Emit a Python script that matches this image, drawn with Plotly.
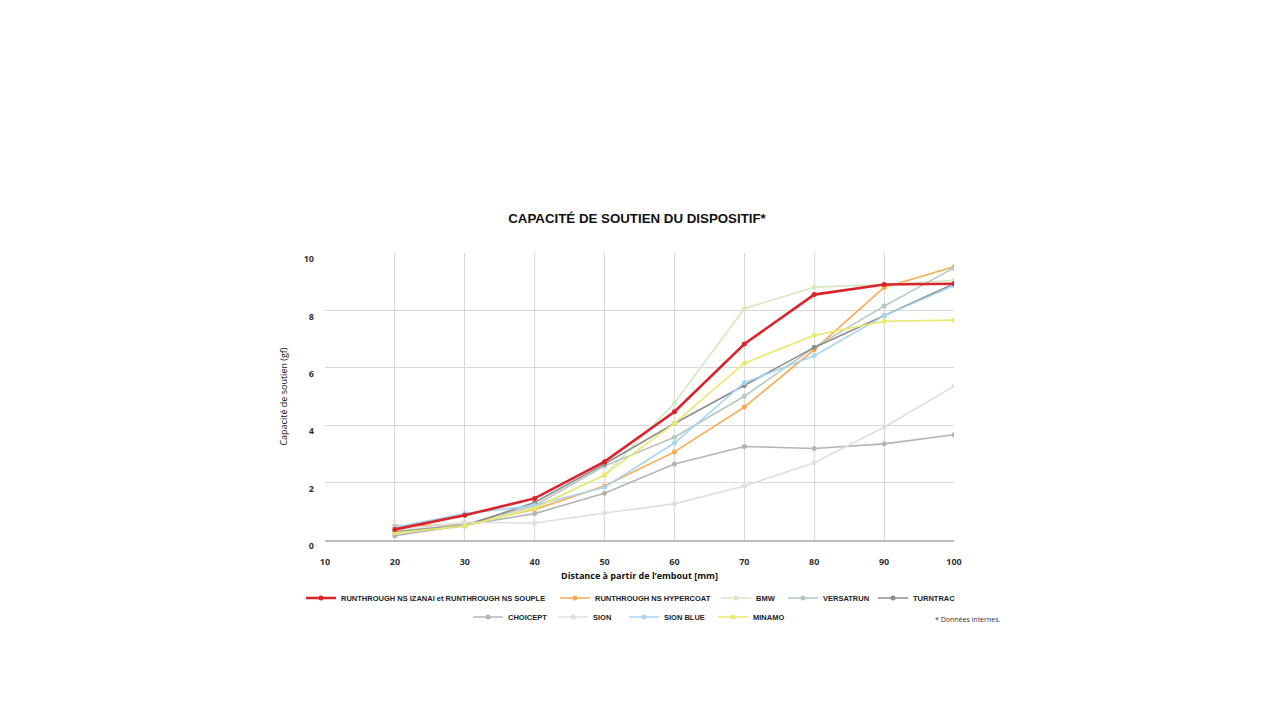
import plotly.graph_objects as go

# distance from tip [mm]
distance = [20, 30, 40, 50, 60, 70, 80, 90, 100]

# support capacity (gf) per product
izanai = [0.37, 0.86, 1.45, 2.73, 4.47, 6.83, 8.55, 8.90, 8.93]
hypercoat = [0.48, 0.55, 1.06, 1.88, 3.07, 4.63, 6.63, 8.80, 9.52]
bmw = [0.22, 0.47, 1.14, 2.25, 4.77, 8.06, 8.81, 8.90, 9.05]
versatrun = [0.30, 0.55, 1.20, 2.58, 3.58, 5.01, 6.71, 8.15, 9.48]
turntrac = [0.28, 0.50, 1.31, 2.65, 4.06, 5.38, 6.71, 7.81, 8.93]
choicept = [0.15, 0.52, 0.92, 1.63, 2.65, 3.26, 3.19, 3.35, 3.67]
sion = [0.35, 0.62, 0.59, 0.94, 1.26, 1.88, 2.69, 3.93, 5.36]
sion_blue = [0.44, 0.92, 1.20, 1.84, 3.38, 5.48, 6.42, 7.81, 8.86]
minamo = [0.25, 0.49, 1.10, 2.27, 4.06, 6.16, 7.13, 7.62, 7.66]

series = [
    ("RUNTHROUGH NS IZANAI et RUNTHROUGH NS SOUPLE", izanai, "#d9242b"),
    ("RUNTHROUGH NS HYPERCOAT", hypercoat, "#f9aa4f"),
    ("BMW", bmw, "#d5e8c2"),
    ("VERSATRUN", versatrun, "#b6c7bf"),
    ("TURNTRAC", turntrac, "#8e8e8e"),
    ("CHOICEPT", choicept, "#b4b4b4"),
    ("SION", sion, "#dfdfdf"),
    ("SION BLUE", sion_blue, "#a8d4f1"),
    ("MINAMO", minamo, "#e8e96f"),
]

# page has an 8px body margin, so the figure is a bit smaller than the window
W, H = 1264, 704
L, T = 317, 245
PW, PH = 629, 287

# where each legend entry's text starts in the picture (px), and its row
legend_text_x = [341, 595, 756, 823, 913, 508, 593, 664, 753]
legend_row_y = [598, 598, 598, 598, 598, 617, 617, 617, 617]

fig = go.Figure()

# draw red last so it sits on top
order = list(range(1, len(series))) + [0]
for i in order:
    name, values, color = series[i]
    fig.add_trace(
        go.Scatter(
            x=distance,
            y=values,
            name=name,
            mode="lines+markers",
            line=dict(color=color, width=2.6 if i == 0 else 1.6),
            marker=dict(color=color, size=5),
            legend="legend" if i == 0 else f"legend{i + 1}",
            showlegend=True,
        )
    )

axis_font = dict(family="Open Sans, Liberation Sans", size=9, color="#333333", weight="bold")
legend_font = dict(family="Liberation Sans, Arial", size=7.5, color="#222222", weight="bold")

legends = {}
for i in range(len(series)):
    key = "legend" if i == 0 else f"legend{i + 1}"
    legends[key] = dict(
        orientation="h",
        x=(legend_text_x[i] - 40 - 8 - L) / PW,
        xanchor="left",
        y=(T + PH + 8 - legend_row_y[i]) / PH,
        yanchor="middle",
        font=legend_font,
        bgcolor="rgba(0,0,0,0)",
        borderwidth=0,
    )

fig.update_layout(
    width=W,
    height=H,
    showlegend=True,
    paper_bgcolor="white",
    plot_bgcolor="white",
    margin=dict(l=L, r=W - L - PW, t=T, b=H - T - PH),
    title=dict(
        text="CAPACITÉ DE SOUTIEN DU DISPOSITIF*",
        x=(637 - 8) / W,
        xanchor="center",
        y=1 - (218 - 8) / H,
        yanchor="middle",
        font=dict(family="Liberation Sans, Arial", size=13.3, color="#111111", weight="bold"),
    ),
    xaxis=dict(
        range=[10, 100],
        tickvals=[10, 20, 30, 40, 50, 60, 70, 80, 90, 100],
        showgrid=True,
        gridcolor="#d9d9d9",
        gridwidth=1,
        zeroline=False,
        showline=True,
        linecolor="#bdbdbd",
        linewidth=1.5,
        ticks="",
        ticklabelstandoff=12,
        tickfont=axis_font,
        title=dict(
            text="Distance à partir de l’embout [mm]",
            font=dict(family="Open Sans, Liberation Sans", size=9, color="#111111", weight="bold"),
            standoff=6,
        ),
    ),
    yaxis=dict(
        range=[0, 10],
        tickvals=[0, 2, 4, 6, 8, 10],
        showgrid=True,
        gridcolor="#d9d9d9",
        gridwidth=1,
        zeroline=False,
        showline=False,
        ticks="",
        ticklabelstandoff=10,
        ticklabelshift=6,
        tickfont=axis_font,
        title=dict(
            text="Capacité de soutien (gf)",
            font=dict(family="Open Sans, Liberation Sans", size=9, color="#111111"),
            standoff=14,
        ),
    ),
    annotations=[
        dict(
            text="* Données internes.",
            x=(1002 - 8 - L) / PW,
            xanchor="right",
            y=(T + PH + 8 - 619) / PH,
            yanchor="middle",
            xref="paper",
            yref="paper",
            showarrow=False,
            font=dict(family="Open Sans, Liberation Sans", size=7, color="#333333"),
        )
    ],
    **legends,
)

fig.write_html("out.html")
